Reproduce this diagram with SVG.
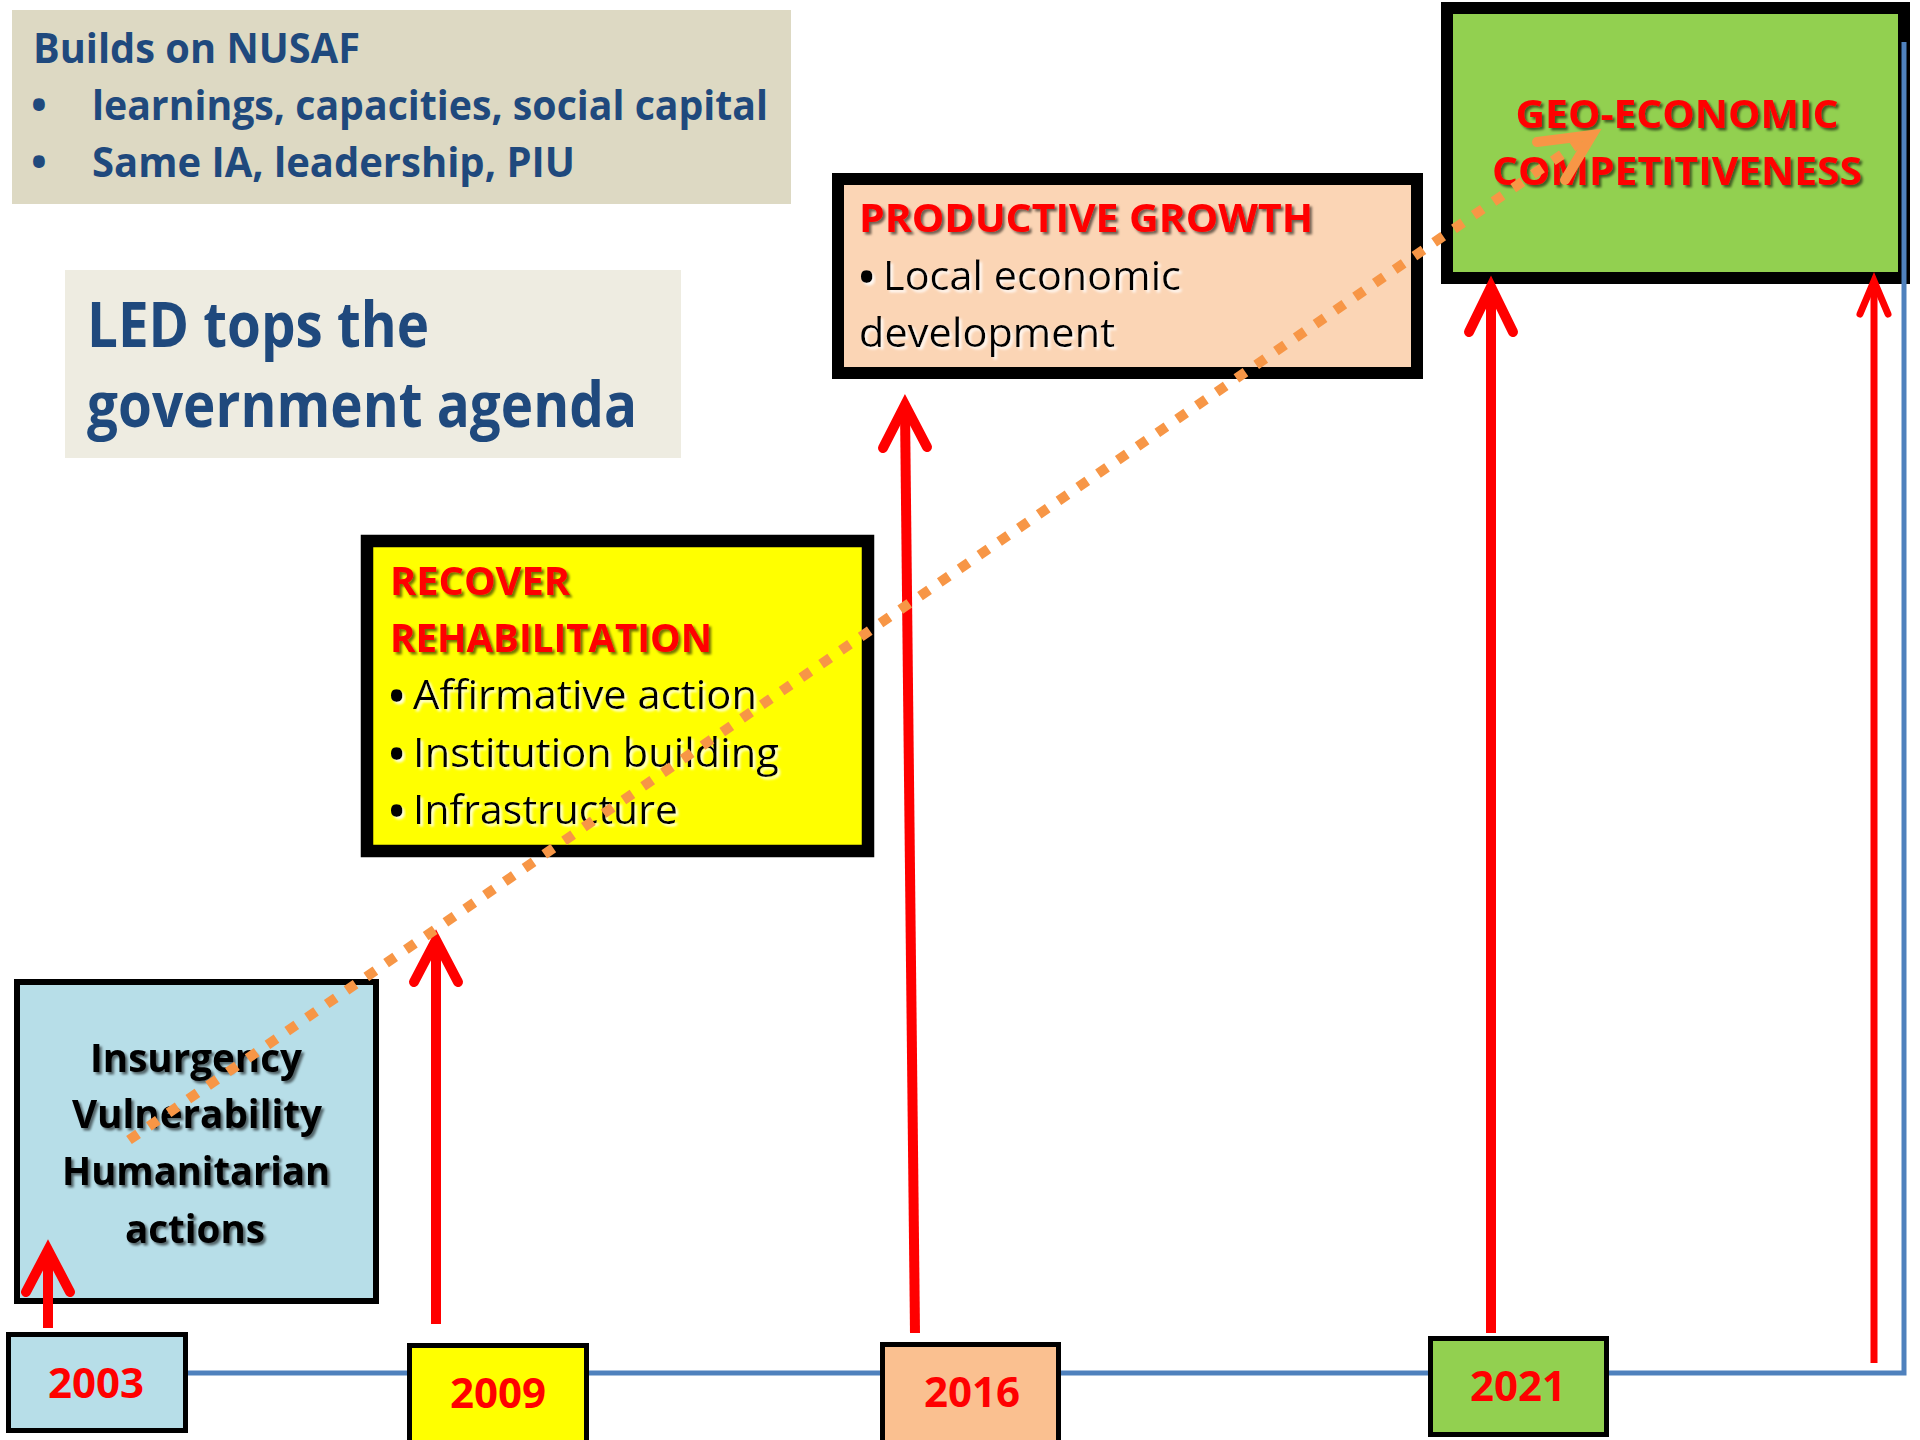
<svg xmlns="http://www.w3.org/2000/svg" width="1920" height="1440" viewBox="0 0 1920 1440">
<defs>
<style>
.t{font-family:"Open Sans","Noto Sans","Liberation Sans",sans-serif;}
.blue{fill:#1F497D;font-weight:bold;}
.head{fill:#FF0000;font-weight:bold;font-size:39px;filter:url(#dark);}
.body{fill:#000;font-size:41px;filter:url(#light);}
.bul{fill:#000;font-size:41px;font-weight:bold;filter:url(#light);}
.bb{fill:#000;font-weight:bold;font-size:39px;filter:url(#dark);}
.year{fill:#FF0000;font-weight:bold;font-size:42px;}
.redarrow{fill:none;stroke:#FF0000;stroke-width:10;stroke-linecap:butt;}
.redhead{fill:none;stroke:#FF0000;stroke-width:10;stroke-linecap:round;stroke-linejoin:miter;stroke-miterlimit:10;}
</style>
<filter id="dark" x="-10%" y="-20%" width="120%" height="150%">
<feDropShadow dx="2.5" dy="2.5" stdDeviation="1.2" flood-color="#000" flood-opacity="0.55"/>
</filter>
<filter id="light" x="-10%" y="-20%" width="120%" height="150%">
<feDropShadow dx="2.5" dy="2.5" stdDeviation="1.2" flood-color="#fff" flood-opacity="0.85"/>
</filter>
</defs>
<rect width="1920" height="1440" fill="#fff"/>

<g id="builds-on-nusaf">
<rect x="12" y="10" width="779" height="194" fill="#DDD9C3"/>
<text class="t blue" font-size="42" x="33" y="63" textLength="327" lengthAdjust="spacingAndGlyphs">Builds on NUSAF</text>
<text class="t blue" font-size="42" x="31" y="120">•</text>
<text class="t blue" font-size="42" x="92" y="120" textLength="676" lengthAdjust="spacingAndGlyphs">learnings, capacities, social capital</text>
<text class="t blue" font-size="42" x="31" y="177">•</text>
<text class="t blue" font-size="42" x="92" y="177" textLength="483" lengthAdjust="spacingAndGlyphs">Same IA, leadership, PIU</text>
</g>

<g id="led-tops-agenda">
<rect x="65" y="270" width="616" height="188" fill="#EEECE1"/>
<text class="t blue" font-size="62" x="87" y="347" textLength="342" lengthAdjust="spacingAndGlyphs">LED tops the</text>
<text class="t blue" font-size="62" x="87" y="427" textLength="550" lengthAdjust="spacingAndGlyphs">government agenda</text>
</g>

<g id="insurgency-box">
<rect x="17" y="982" width="359" height="319" fill="#B7DEE8" stroke="#000" stroke-width="6"/>
<text class="t bb" x="196" y="1072" text-anchor="middle" textLength="212" lengthAdjust="spacingAndGlyphs">Insurgency</text>
<text class="t bb" x="197" y="1128" text-anchor="middle" textLength="250" lengthAdjust="spacingAndGlyphs">Vulnerability</text>
<text class="t bb" x="196" y="1185" text-anchor="middle" textLength="268" lengthAdjust="spacingAndGlyphs">Humanitarian</text>
<text class="t bb" x="195" y="1243" text-anchor="middle" textLength="140" lengthAdjust="spacingAndGlyphs">actions</text>
</g>

<g id="recover-box">
<rect x="367" y="541" width="501" height="310" fill="#FFFF00" stroke="#000" stroke-width="12.5"/>
<text class="t head" x="390" y="595" textLength="180" lengthAdjust="spacingAndGlyphs">RECOVER</text>
<text class="t head" x="390" y="652" textLength="322" lengthAdjust="spacingAndGlyphs">REHABILITATION</text>
<text class="t bul" x="389" y="711">•</text>
<text class="t body" x="413" y="709" textLength="344" lengthAdjust="spacingAndGlyphs">Affirmative action</text>
<text class="t bul" x="389" y="769">•</text>
<text class="t body" x="413" y="767" textLength="366" lengthAdjust="spacingAndGlyphs">Institution building</text>
<text class="t bul" x="389" y="826">•</text>
<text class="t body" x="413" y="824" textLength="265" lengthAdjust="spacingAndGlyphs">Infrastructure</text>
</g>

<g id="productive-growth-box">
<rect x="838" y="179" width="579" height="194" fill="#FBD5B5" stroke="#000" stroke-width="12"/>
<text class="t head" x="859" y="232" textLength="454" lengthAdjust="spacingAndGlyphs">PRODUCTIVE GROWTH</text>
<text class="t bul" x="859" y="292">•</text>
<text class="t body" x="883" y="290" textLength="298" lengthAdjust="spacingAndGlyphs">Local economic</text>
<text class="t body" x="859" y="347" textLength="256" lengthAdjust="spacingAndGlyphs">development</text>
</g>

<g id="geo-economic-box">
<rect x="1447" y="8" width="457" height="270" fill="#92D050" stroke="#000" stroke-width="12"/>
<text class="t head" x="1677" y="128" text-anchor="middle" textLength="323" lengthAdjust="spacingAndGlyphs">GEO-ECONOMIC</text>
<text class="t head" x="1677" y="185" text-anchor="middle" textLength="370" lengthAdjust="spacingAndGlyphs">COMPETITIVENESS</text>
</g>

<g id="connectors">
<path id="timeline" d="M150,1373 H1904 V42" fill="none" stroke="#4F81BD" stroke-width="5"/>
<g id="arrow-2003">
<path class="redarrow" d="M48,1328 V1254"/>
<path class="redhead" d="M26,1292 L48,1250 L70,1292"/>
</g>
<g id="arrow-2009">
<path class="redarrow" d="M436,1324 V944"/>
<path class="redhead" d="M414,982 L436,940 L458,982"/>
</g>
<g id="arrow-2016">
<path class="redarrow" d="M915,1333 L905,409"/>
<path class="redhead" d="M883,448 L905,405 L927,447"/>
</g>
<g id="arrow-2021">
<path class="redarrow" d="M1491,1333 V291"/>
<path class="redhead" d="M1469,332 L1491,287 L1513,332"/>
</g>
<g id="arrow-right">
<path class="redarrow" style="stroke-width:7" d="M1874,1363 V284"/>
<path class="redhead" style="stroke-width:7" d="M1860,314 L1874,281 L1888,314"/>
</g>
<g id="trend-dotted">
<path d="M129,1140 L1586,138" fill="none" stroke="#F79646" stroke-width="10" stroke-dasharray="11 13"/>
<path d="M1537,142 L1592,135 L1565,180" fill="none" stroke="#F79646" stroke-width="10" stroke-linecap="round" stroke-linejoin="miter"/>
</g>
</g>

<g id="year-2003">
<rect x="8.5" y="1334.5" width="177" height="96" fill="#B7DEE8" stroke="#000" stroke-width="5"/>
<text class="t year" x="96" y="1398" text-anchor="middle">2003</text>
</g>
<g id="year-2009">
<rect x="409.5" y="1345.5" width="177" height="100" fill="#FFFF00" stroke="#000" stroke-width="5"/>
<text class="t year" x="498" y="1408" text-anchor="middle">2009</text>
</g>
<g id="year-2016">
<rect x="882.5" y="1344.5" width="176" height="100" fill="#FAC090" stroke="#000" stroke-width="5"/>
<text class="t year" x="972" y="1407" text-anchor="middle">2016</text>
</g>
<g id="year-2021">
<rect x="1430.5" y="1338.5" width="176" height="96" fill="#92D050" stroke="#000" stroke-width="5"/>
<text class="t year" x="1518" y="1401" text-anchor="middle">2021</text>
</g>
</svg>
